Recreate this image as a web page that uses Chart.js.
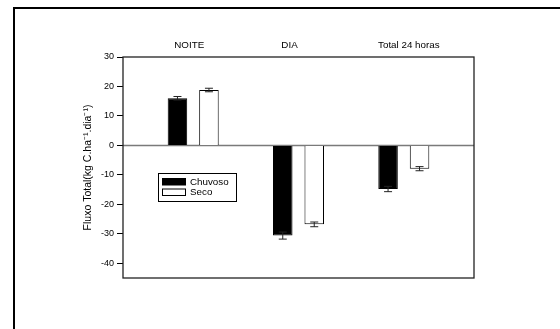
<!DOCTYPE html>
<html>
<head>
<meta charset="utf-8">
<script src="https://cdn.jsdelivr.net/npm/chart.js@4"></script>
<style>
  body { margin: 0; background: #fff; }
  #frame { position: absolute; left: 13px; top: 7px; width: 700px; height: 500px;
           border-left: 2px solid #000; border-top: 2px solid #000; }
  canvas { position: absolute; left: 0; top: 0; }
</style>
</head>
<body>
<div id="frame"></div>
<canvas id="chart" width="560" height="329"></canvas>
<script>
// data
const categories = ['NOITE', 'DIA', 'Total 24 horas'];
const chuvoso = [16.0, -30.6, -14.8];
const chuvosoErr = [0.6, 1.2, 0.9];
const seco = [18.8, -26.8, -7.9];
const secoErr = [0.6, 0.8, 0.7];
const yTicks = [-40, -30, -20, -10, 0, 10, 20, 30];

// small nudges so the category captions sit like in the original
const labelShift = [-4, -9, 5];
const font = 'Liberation Sans, Arial, sans-serif';

const points = vals => vals.map((v, i) => ({ x: i + 1, y: v }));

const extras = {
    id: 'extras',
    beforeDatasetsDraw(chart) {
        const { ctx, chartArea: a, scales: { y } } = chart;
        const y0 = y.getPixelForValue(0);
        ctx.save();
        ctx.strokeStyle = '#7a7a7a';
        ctx.lineWidth = 1.5;
        ctx.beginPath();
        ctx.moveTo(a.left, y0);
        ctx.lineTo(a.right, y0);
        ctx.stroke();
        ctx.restore();
    },
    afterDatasetsDraw(chart) {
        const { ctx, scales: { y } } = chart;
        chart.data.datasets.forEach((ds, i) => {
            chart.getDatasetMeta(i).data.forEach((bar, j) => {
                const v = ds.data[j].y, e = ds.errors[j];
                const y1 = y.getPixelForValue(v - e), y2 = y.getPixelForValue(v + e);
                ctx.save();
                ctx.strokeStyle = '#222';
                ctx.lineWidth = 1;
                ctx.beginPath();
                ctx.moveTo(bar.x, y1); ctx.lineTo(bar.x, y2);
                ctx.moveTo(bar.x - 4, y1); ctx.lineTo(bar.x + 4, y1);
                ctx.moveTo(bar.x - 4, y2); ctx.lineTo(bar.x + 4, y2);
                ctx.stroke();
                ctx.restore();
            });
        });
    },
    afterDraw(chart) {
        const { ctx, chartArea: a, scales: { x } } = chart;
        ctx.save();
        // plot frame
        ctx.strokeStyle = '#222';
        ctx.lineWidth = 1.3;
        ctx.strokeRect(a.left, a.top, a.right - a.left, a.bottom - a.top);

        // category captions above the plot
        ctx.fillStyle = '#000';
        ctx.font = '9.8px ' + font;
        ctx.textAlign = 'center';
        ctx.textBaseline = 'middle';
        categories.forEach((c, i) => {
            ctx.fillText(c, x.getPixelForValue(i + 1) + labelShift[i], 45.5);
        });

        // legend box inside the plot
        ctx.lineWidth = 1;
        ctx.strokeStyle = '#000';
        ctx.strokeRect(158.5, 173.5, 78, 28);
        ctx.textAlign = 'left';
        chart.data.datasets.forEach((ds, i) => {
            const top = 178.5 + i * 10.5;
            ctx.fillStyle = ds.backgroundColor;
            ctx.fillRect(162.5, top, 23, 6.5);
            ctx.strokeRect(162.5, top, 23, 6.5);
            ctx.fillStyle = '#000';
            ctx.fillText(ds.label, 190, top + 3.5);
        });
        ctx.restore();
    }
};

new Chart(document.getElementById('chart'), {
    type: 'bar',
    data: {
        datasets: [
            { label: 'Chuvoso', data: points(chuvoso), errors: chuvosoErr,
              backgroundColor: '#000', borderColor: '#000', borderWidth: 1 },
            { label: 'Seco', data: points(seco), errors: secoErr,
              backgroundColor: '#fff', borderColor: '#000', borderWidth: 1 }
        ]
    },
    options: {
        responsive: false,
        animation: false,
        categoryPercentage: 0.598,
        barPercentage: 0.62,
        layout: { padding: { left: 0, top: 0, right: 86, bottom: 51 } },
        plugins: { legend: { display: false }, tooltip: { enabled: false } },
        scales: {
            x: {
                type: 'linear',
                position: 'top',
                offset: false,
                min: 1 / 3,
                max: 11 / 3,
                afterBuildTicks: s => { s.ticks = categories.map((c, i) => ({ value: i + 1 })); },
                afterFit: s => { s.height = 57; },
                ticks: { display: false },
                grid: { display: false, drawTicks: false, offset: false },
                border: { display: false }
            },
            y: {
                min: -45,
                max: 30,
                afterBuildTicks: s => { s.ticks = yTicks.map(v => ({ value: v })); },
                afterFit: s => { s.width = 123; },
                ticks: { color: '#000', font: { family: font, size: 9 }, padding: 3 },
                grid: { drawOnChartArea: false, tickLength: 6, color: '#000' },
                border: { display: false },
                title: {
                    display: true,
                    text: 'Fluxo Total(kg C.ha\u207B\u00B9.dia\u207B\u00B9)',
                    color: '#000',
                    font: { family: font, size: 10.5 },
                    padding: { top: 82, bottom: 0 }
                }
            }
        }
    },
    plugins: [extras]
});
</script>
</body>
</html>
